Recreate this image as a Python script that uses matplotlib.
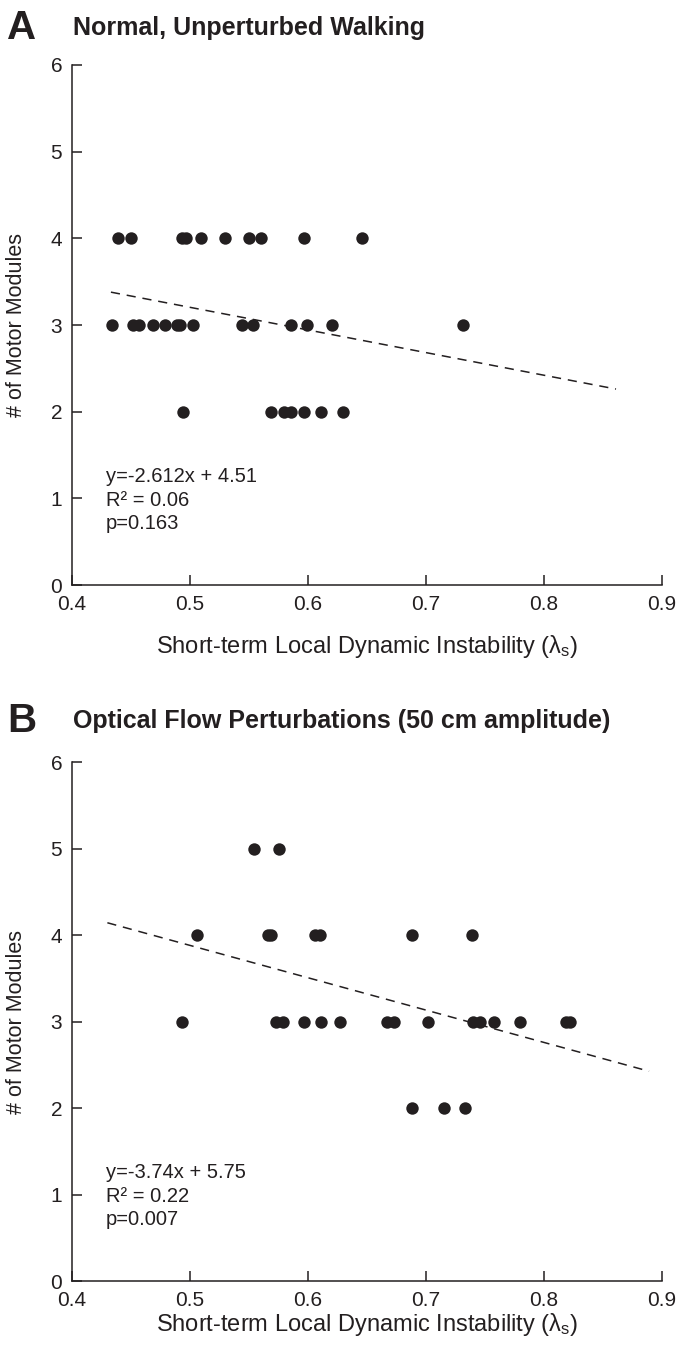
import matplotlib
matplotlib.use("Agg")
import matplotlib.pyplot as plt
import numpy as np

plt.rcParams['font.family'] = ['Liberation Sans', 'DejaVu Sans']

# Panel A - normal walking
a_x = [0.439, 0.450, 0.493, 0.497, 0.509, 0.530, 0.550, 0.560, 0.597, 0.646,
       0.4336, 0.452, 0.4568, 0.4684, 0.4788, 0.4893, 0.4915, 0.5023, 0.5441, 0.5531,
       0.5856, 0.5990, 0.6201, 0.7313,
       0.4945, 0.5685, 0.580, 0.586, 0.5966, 0.611, 0.630]
a_y = [4] * 10 + [3] * 14 + [2] * 7
a_fit = (-2.612, 4.51)
a_fit_range = (0.433, 0.861)
a_text = "y=-2.612x + 4.51\nR\u00b2 = 0.06\np=0.163"

# Panel B - optical flow perturbations
b_x = [0.554, 0.5755,
       0.506, 0.566, 0.569, 0.606, 0.610, 0.688, 0.739,
       0.4935, 0.5725, 0.579, 0.5966, 0.611, 0.627, 0.667, 0.673, 0.702, 0.740,
       0.746, 0.758, 0.780, 0.819, 0.822,
       0.688, 0.7156, 0.733]
b_y = [5] * 2 + [4] * 7 + [3] * 15 + [2] * 3
b_fit = (-3.74, 5.75)
b_fit_range = (0.430, 0.889)
b_text = "y=-3.74x + 5.75\nR\u00b2 = 0.22\np=0.007"

xticks = [0.4, 0.5, 0.6, 0.7, 0.8, 0.9]
yticks = [0, 1, 2, 3, 4, 5, 6]
xlabel = "Short-term Local Dynamic Instability ($\\mathregular{\\lambda_s}$)"
ylabel = "# of Motor Modules"
ink = "#231f20"

fig = plt.figure(figsize=(6.79, 13.48), dpi=100)
axA = fig.add_axes([0.106, 0.566, 0.869, 0.3858])
axB = fig.add_axes([0.106, 0.0497, 0.869, 0.385])

panels = [
    (axA, a_x, a_y, a_fit, a_fit_range, a_text, "A", "Normal, Unperturbed Walking", 0.979),
    (axB, b_x, b_y, b_fit, b_fit_range, b_text, "B", "Optical Flow Perturbations (50 cm amplitude)", 0.465),
]

for ax, xs, ys, fit, rng, txt, letter, title, ty in panels:
    ax.scatter(xs, ys, s=80, color=ink, zorder=3, linewidths=0)
    lx = np.array(rng)
    ax.plot(lx, fit[0] * lx + fit[1], color=ink, lw=1.1, dashes=(6, 4.5))
    ax.set_xlim(0.4, 0.9)
    ax.set_ylim(0, 6)
    ax.set_xticks(xticks)
    ax.set_yticks(yticks)
    ax.set_xticklabels([str(t) for t in xticks])
    ax.tick_params(direction='in', length=7, width=1.1, colors=ink, labelsize=15, pad=7)
    for sp in ['top', 'right']:
        ax.spines[sp].set_visible(False)
    for sp in ['left', 'bottom']:
        ax.spines[sp].set_linewidth(1.1)
        ax.spines[sp].set_color(ink)
    ax.set_ylabel(ylabel, fontsize=15.5, color=ink)
    ax.yaxis.set_label_coords(-0.076, 0.5)
    ax.text(0.4285, 1.36, txt, fontsize=14.5, color=ink, va='top', linespacing=1.3)
    fig.text(0.010, ty, letter, fontsize=29, fontweight='bold', color=ink, va='center')
    fig.text(0.107, ty, title, fontsize=18, fontweight='bold', color=ink, va='center')

axA.set_xlabel(xlabel, fontsize=17, color=ink, labelpad=14)
axB.set_xlabel(xlabel, fontsize=17, color=ink, labelpad=1)

fig.savefig("out.png", dpi=100)
